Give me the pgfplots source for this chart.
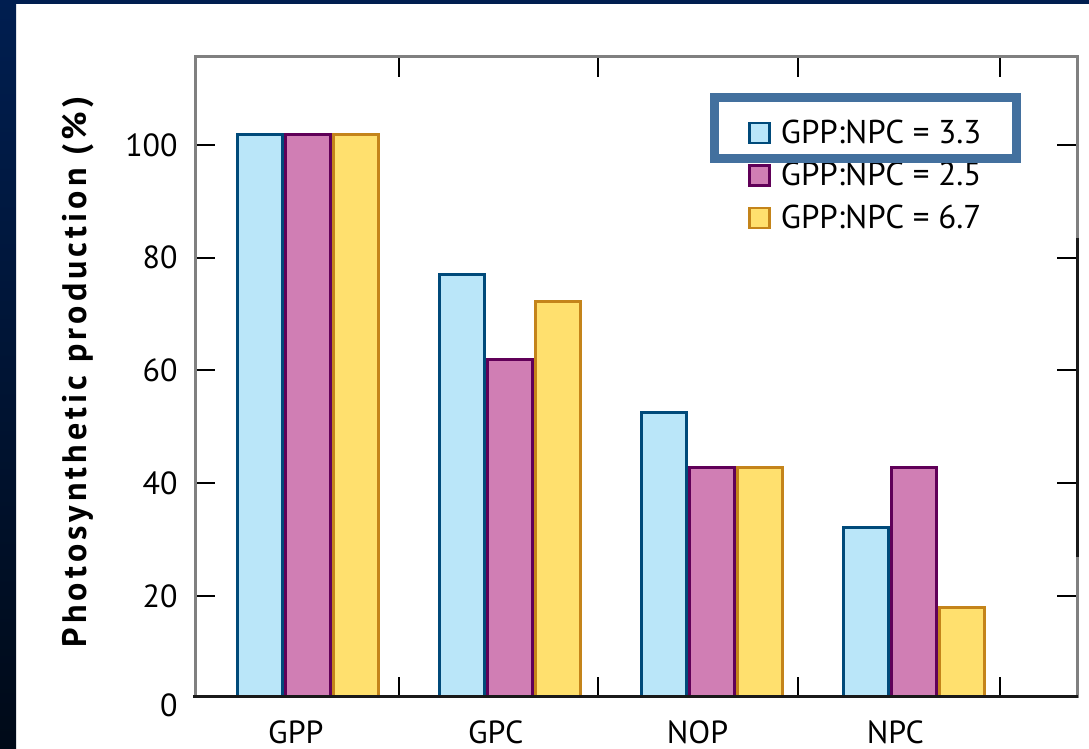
\documentclass[border=0pt]{standalone}
\usepackage{fontspec}
\setmainfont{PT Sans}
\usepackage{pgfplots}
\pgfplotsset{compat=1.18}

\definecolor{bluefill}{HTML}{BAE6F9}
\definecolor{blueedge}{HTML}{004A7A}
\definecolor{pinkfill}{HTML}{D07EB4}
\definecolor{pinkedge}{HTML}{600058}
\definecolor{yellowfill}{HTML}{FFE06E}
\definecolor{yellowedge}{HTML}{C4841A}
\definecolor{highlight}{HTML}{43709E}
\definecolor{axisgray}{HTML}{808080}
\definecolor{navytop}{HTML}{001E50}
\definecolor{navybot}{HTML}{000A18}

\newcommand{\chartfont}{\fontsize{16}{19}\selectfont}

\begin{document}
\begin{tikzpicture}
% frame of the slide (1 unit = 1 px of the reference)
\begin{scope}[x=0.5pt,y=0.5pt]
  \fill[white] (0,0) rectangle (1089,749);
  \shade[top color=navytop, bottom color=navybot] (0,0) rectangle (16,749);
  \fill[navytop] (0,745) rectangle (1089,749);
\end{scope}

\begin{axis}[
    at={(97.5pt,26pt)}, anchor=south west,
    width=441pt, height=320pt, scale only axis,
    xmin=-0.56, xmax=3.81,
    ymin=2.08, ymax=115.6,
    ybar=1.5pt, bar width=22.5pt,
    axis line style={draw=axisgray, line width=1.5pt},
    tick align=inside,
    major tick length=10pt,
    tick style={black, line width=1pt},
    xtick={0.45,1.435,2.43,3.43},
    xticklabels={},
    extra x ticks={-0.06,0.93,1.93,2.91},
    extra x tick labels={GPP,GPC,NOP,NPC},
    extra x tick style={major tick length=0pt,
        xticklabel style={font=\chartfont, anchor=north, inner sep=0pt, yshift=-11.5pt}},
    ytick={20,40,60,80,100},
    yticklabel style={font=\chartfont, inner sep=0pt, xshift=-8.5pt},
    /pgf/number format/assume math mode=true,
    ylabel={Photosynthetic production (\%)},
    ylabel style={at={(axis description cs:-0.1327,0.508)}, anchor=center,
        font=\bfseries\fontsize{17}{20}\selectfont\addfontfeature{LetterSpace=12}},
    legend style={at={(rel axis cs:0.627,0.909)}, anchor=north west,
        draw=none, fill=none, inner sep=0pt, row sep=4pt,
        font=\fontsize{16.5}{19}\selectfont,
        /tikz/every odd column/.append style={column sep=3pt}},
    legend cell align=left,
    legend image code/.code={\draw[#1, line width=1.2pt] (0pt,-5pt) rectangle (10pt,5pt);},
]
\addplot[fill=bluefill, draw=blueedge, line width=1.5pt] coordinates {
    (0,101.9) (1,77.1) (2,52.5) (3,32.2)};
\addplot[fill=pinkfill, draw=pinkedge, line width=1.5pt] coordinates {
    (0,101.9) (1,61.9) (2,42.7) (3,42.7)};
\addplot[fill=yellowfill, draw=yellowedge, line width=1.5pt] coordinates {
    (0,101.9) (1,72.3) (2,42.7) (3,18.0)};
\legend{GPP:NPC = 3.3, GPP:NPC = 2.5, GPP:NPC = 6.7}
\end{axis}

\begin{scope}[x=0.5pt,y=0.5pt]
  \draw[black!90, line width=1.5pt] (193,52) -- (1078,52);
  \draw[black!90, line width=1.5pt] (1077,511) -- (1077,192);
  \node[anchor=east, inner sep=0pt, font=\chartfont] at (178,44) {0};
  \draw[highlight, line width=4.5pt] (714.5,590.5) rectangle (1016.5,651.5);
\end{scope}

\pgfresetboundingbox
\path[use as bounding box] (0,0) rectangle (544.5pt,374.5pt);
\end{tikzpicture}
\end{document}
